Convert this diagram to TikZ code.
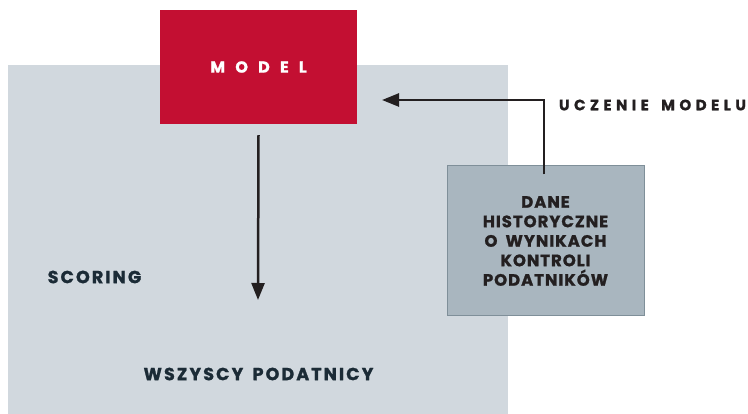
\documentclass[tikz,border=0pt]{standalone}
\usepackage{fontspec}
\usepackage{tikz}
\usetikzlibrary{arrows.meta, positioning}
\newfontfamily\lblfont{Poppins}[LetterSpace=12, WordSpace=1.6, BoldFeatures={FakeBold=1.2}]
\newfontfamily\learnfont{Poppins}[LetterSpace=30, WordSpace=1.6, BoldFeatures={FakeBold=1.2}]
\newfontfamily\datafont{Poppins}[LetterSpace=6, WordSpace=1.8, BoldFeatures={FakeBold=1.2}]
\newfontfamily\modelfont{Poppins}[LetterSpace=64, BoldFeatures={FakeBold=1.2}]
\definecolor{modelred}{HTML}{C30F32}
\definecolor{areagray}{HTML}{D1D8DE}
\definecolor{datagray}{HTML}{A9B6BF}
\definecolor{dataedge}{HTML}{7F8F99}
\definecolor{inkdark}{HTML}{1B2B36}
\definecolor{arrowink}{HTML}{231F20}

\begin{document}
\begin{tikzpicture}[
        x=1pt, y=-1pt,
        every node/.style={align=center, inner sep=0pt},
        area/.style={
            rectangle, minimum width=500pt, minimum height=349pt,
            fill=areagray, anchor=north west
        },
        modelbox/.style={
            rectangle, minimum width=197pt, minimum height=114pt,
            fill=modelred, text=white, font=\modelfont\bfseries\fontsize{16}{18}\selectfont
        },
        databox/.style={
            rectangle, minimum width=197pt, minimum height=150pt,
            fill=datagray, draw=dataedge, line width=1pt, text=arrowink,
            font=\datafont\bfseries\fontsize{16.5}{19.5}\selectfont
        },
        label/.style={text=inkdark, font=\lblfont\bfseries\fontsize{17.5}{20}\selectfont},
        arr/.style={-{Triangle[length=17pt, width=13pt]}, line width=2.5pt, draw=arrowink},
    ]

    \useasboundingbox (0,0) rectangle (748,414);

    \node (scoring) [area] at (8,65) {};
    \node (model)   [modelbox] at (258.5,67) {MODEL};
    \node (dane)    [databox]  at (545.5,241) {DANE\\HISTORYCZNE\\O WYNIKACH\\KONTROLI\\PODATNIKÓW};

    \node (scorelbl) [label] at (94.5,277)  {SCORING};
    \node (allpay)   [label] at (258.5,374) {WSZYSCY PODATNICY};
    \node (learnlbl) [label, text=arrowink, font=\learnfont\bfseries\fontsize{15}{17}\selectfont] at (652.5,105) {UCZENIE MODELU};

    \coordinate (scoretip) at (258,300);
    \coordinate (learntip) at (382,100);

    \draw [arr] ([yshift=-11pt]model.south) -- (scoretip);
    \draw [arr] ([xshift=-1.5pt, yshift=-9pt]dane.north) |- (learntip);

\end{tikzpicture}
\end{document}
